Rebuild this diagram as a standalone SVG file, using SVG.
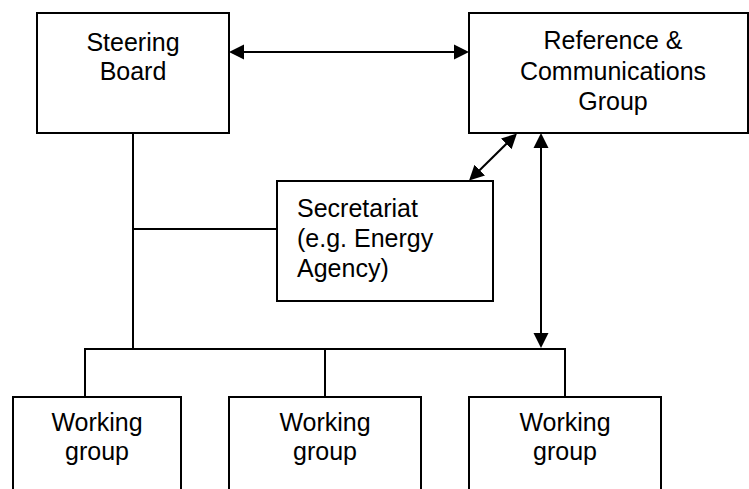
<svg xmlns="http://www.w3.org/2000/svg" width="749" height="489" viewBox="0 0 749 489">
<style>
.box{fill:#fff;stroke:#000;stroke-width:2}
.t{font-family:"Liberation Sans",Arial,sans-serif;font-size:25px;fill:#000}
.c{text-anchor:middle}
.ln{fill:none;stroke:#000;stroke-width:2}
.ar{marker-start:url(#ah);marker-end:url(#ah)}
</style>
<defs>
<marker id="ah" markerUnits="userSpaceOnUse" markerWidth="16" markerHeight="16" viewBox="0 0 16 16" refX="12" refY="8" orient="auto-start-reverse">
<path d="M0,0.5 L15,8 L0,15.5 Z" fill="#000"/>
</marker>
</defs>
<rect width="749" height="489" fill="#fff"/>
<g id="connectors">
<path class="ln" d="M133,133 V349 M85,397 V349 H565 V397 M325,349 V397 M133,229 H277"/>
<line class="ln ar" x1="232" y1="52" x2="466" y2="52"/>
<line class="ln ar" x1="541" y1="136" x2="541" y2="345"/>
<line class="ln ar" x1="514.8" y1="135.5" x2="471.2" y2="178.5"/>
</g>
<g id="steering">
<rect class="box" x="37" y="13" width="192" height="120"/>
<text class="t c" x="133" y="51">Steering</text>
<text class="t c" x="133" y="80">Board</text>
</g>
<g id="reference">
<rect class="box" x="469" y="13" width="279" height="120"/>
<text class="t c" x="613" y="49">Reference &amp;</text>
<text class="t c" x="613" y="80">Communications</text>
<text class="t c" x="613" y="110">Group</text>
</g>
<g id="secretariat">
<rect class="box" x="277" y="181" width="216" height="120"/>
<text class="t" x="297" y="217">Secretariat</text>
<text class="t" x="297" y="247">(e.g. Energy</text>
<text class="t" x="297" y="277">Agency)</text>
</g>
<g id="wg1">
<rect class="box" x="13" y="397" width="168" height="110"/>
<text class="t c" x="97" y="431">Working</text>
<text class="t c" x="97" y="460">group</text>
</g>
<g id="wg2">
<rect class="box" x="229" y="397" width="192" height="110"/>
<text class="t c" x="325" y="431">Working</text>
<text class="t c" x="325" y="460">group</text>
</g>
<g id="wg3">
<rect class="box" x="469" y="397" width="192" height="110"/>
<text class="t c" x="565" y="431">Working</text>
<text class="t c" x="565" y="460">group</text>
</g>
</svg>
